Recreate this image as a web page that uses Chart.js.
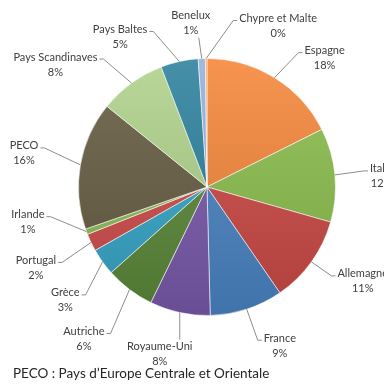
<!DOCTYPE html>
<html><head><meta charset="utf-8">
<script src="https://cdn.jsdelivr.net/npm/chart.js@4/dist/chart.umd.min.js"></script>
<style>html,body{margin:0;padding:0;background:#fff;}canvas{display:block}</style>
</head><body>
<div style="width:384px;height:385px"><canvas id="c" width="384" height="385"></canvas></div>
<script>
// ---- data ----
const categories = ['Espagne','Italie','Allemagne','France','Royaume-Uni','Autriche','Grèce','Portugal','Irlande','PECO','Pays Scandinaves','Pays Baltes','Benelux','Chypre et Malte'];
const shares = [17.6, 11.8, 11.0, 9.2, 7.6, 6.2, 3.4, 2.2, 0.7, 16.1, 8.4, 4.7, 0.9, 0.2];
const footnote = 'PECO : Pays d\u2019Europe Centrale et Orientale';

// ---- styles ----
const sliceColors = ['#F5883D','#8CBF4E','#CD4A47','#4A86C4','#7B5BAD','#5D8A3A','#37A8C9','#D04E4D','#8DBF5A','#675E43','#B1D28C','#30829E','#95B3DA','#F79646'];
// leader end offset from slice edge midpoint, and which side the text sits
const labelLayout = [
  {lead:[24,-25], side:'r'},
  {lead:[29,-4], side:'r'},
  {lead:[20,14], side:'r'},
  {lead:[11,31], side:'r'},
  {lead:[0,27], side:'b', shift:-20},
  {lead:[-19,44], side:'l'},
  {lead:[-17,33], side:'l'},
  {lead:[-29,20], side:'l'},
  {lead:[-36,-15], side:'l'},
  {lead:[-36,-17], side:'l'},
  {lead:[-28,-24], side:'l'},
  {lead:[-26,-30], side:'l'},
  {lead:[-3,-21], side:'t', shift:-8},
  {lead:[27,-38], side:'r'}
];

function shade(hex, amt){
  const n = parseInt(hex.slice(1),16);
  let r=(n>>16)&255,g=(n>>8)&255,b=n&255;
  const t = amt<0?0:255, p=Math.abs(amt);
  r=Math.round(r+(t-r)*p); g=Math.round(g+(t-g)*p); b=Math.round(b+(t-b)*p);
  return 'rgb('+r+','+g+','+b+')';
}

const labelPlugin = {
  id:'outerLabels',
  afterDraw(chart){
    const ctx = chart.ctx;
    const meta = chart.getDatasetMeta(0);
    const total = shares.reduce((a,b)=>a+b,0);
    ctx.save();
    ctx.font = '11px Lato';
    ctx.textBaseline = 'middle';
    ctx.strokeStyle = '#8c8c8c';
    ctx.lineWidth = 1;
    meta.data.forEach((arc,i)=>{
      const p = arc.getProps(['x','y','startAngle','endAngle','outerRadius'], true);
      const mid = (p.startAngle+p.endAngle)/2;
      const ex = p.x + Math.cos(mid)*p.outerRadius, ey = p.y + Math.sin(mid)*p.outerRadius;
      const L = labelLayout[i];
      const lx = ex + L.lead[0], ly = ey + L.lead[1];
      const name = categories[i];
      const pct = Math.round(shares[i]/total*100)+'%';
      const w = ctx.measureText(name).width;
      ctx.beginPath(); ctx.moveTo(ex,ey); ctx.lineTo(lx,ly);
      let cx, nameY, pctY;
      if(L.side==='r'){ ctx.lineTo(lx+4,ly); cx = lx+6+w/2; nameY = ly-2; pctY = nameY+15; }
      else if(L.side==='l'){ ctx.lineTo(lx-4,ly); cx = lx-6-w/2; nameY = ly-2; pctY = nameY+15; }
      else if(L.side==='b'){ cx = lx+(L.shift||0); nameY = ly+7; pctY = nameY+15; }
      else { cx = lx+(L.shift||0); pctY = ly-7; nameY = pctY-15; }
      ctx.stroke();
      ctx.fillStyle = '#404040';
      ctx.textAlign = 'center';
      ctx.fillText(name, cx, nameY);
      ctx.fillText(pct, cx, pctY);
    });
    ctx.font = '13.5px Lato';
    ctx.textAlign = 'left';
    ctx.fillStyle = '#262626';
    ctx.fillText(footnote, 13, 374);
    ctx.restore();
  }
};

new Chart(document.getElementById('c'), {
  type:'pie',
  data:{
    labels: categories,
    datasets:[{
      data: shares,
      backgroundColor: (c)=>{
        const col = sliceColors[c.dataIndex];
        const area = c.chart.chartArea;
        if(!area) return col;
        const g = c.chart.ctx.createLinearGradient(0, area.top, 0, area.bottom);
        g.addColorStop(0, shade(col, 0.1));
        g.addColorStop(1, shade(col, -0.14));
        return g;
      },
      borderColor:'rgba(255,255,255,0.55)',
      borderWidth:1
    }]
  },
  options:{
    responsive:false,
    animation:false,
    layout:{padding:{left:78,right:48,top:58,bottom:69}},
    plugins:{legend:{display:false}, tooltip:{enabled:false}}
  },
  plugins:[labelPlugin]
});
</script>
</body></html>
